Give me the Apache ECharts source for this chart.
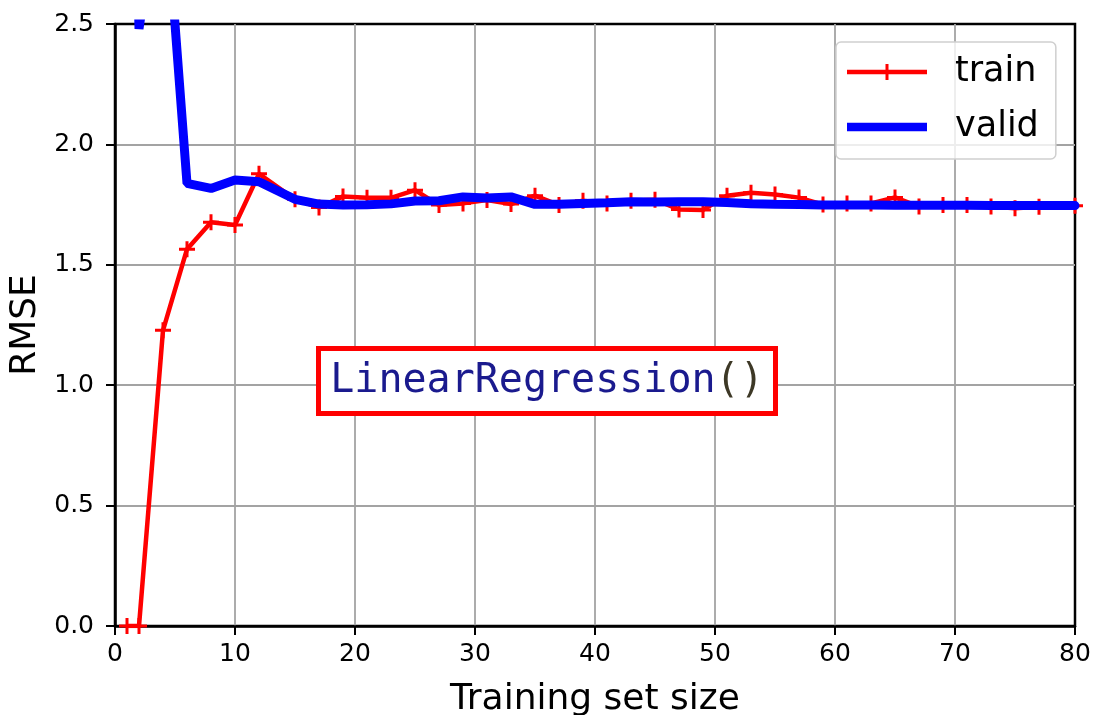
<!DOCTYPE html>
<html>
<head>
<meta charset="utf-8">
<script src="https://cdn.jsdelivr.net/npm/echarts@6/dist/echarts.min.js"></script>
<style>
  html, body { margin: 0; padding: 0; background: #fff; }
  #chart { width: 1094px; height: 715px; }
</style>
</head>
<body>
<div id="chart"></div>
<script>
// Learning curves of a plain linear regression model
const trainSizes = [1, 2, 4, 6, 8, 10, 12, 15, 17, 19, 21, 23, 25, 27, 29, 31, 33, 35, 37, 39,
  41, 43, 45, 47, 49, 51, 53, 55, 57, 59, 61, 63, 65, 67, 69, 71, 73, 75, 77, 80];

const trainRMSE = [0.0, 0.0, 1.228, 1.565, 1.677, 1.665, 1.878, 1.772, 1.738, 1.784,
  1.778, 1.778, 1.810, 1.748, 1.755, 1.769, 1.752, 1.787, 1.748, 1.766,
  1.755, 1.766, 1.770, 1.730, 1.728, 1.787, 1.799, 1.792, 1.779, 1.750,
  1.755, 1.755, 1.780, 1.742, 1.748, 1.748, 1.742, 1.735, 1.741, 1.745];

const validRMSE = [4.6, 2.48, 3.16, 1.838, 1.817, 1.852, 1.845, 1.772, 1.752, 1.748,
  1.749, 1.753, 1.765, 1.766, 1.782, 1.777, 1.782, 1.751, 1.751, 1.755,
  1.758, 1.762, 1.761, 1.762, 1.762, 1.759, 1.754, 1.751, 1.750, 1.748,
  1.748, 1.748, 1.747, 1.747, 1.747, 1.747, 1.746, 1.746, 1.746, 1.746];

const xTicks = [0, 10, 20, 30, 40, 50, 60, 70, 80];
const yTicks = [0.0, 0.5, 1.0, 1.5, 2.0, 2.5];
const seriesNames = ['train', 'valid'];
const modelLabel = 'LinearRegression';

const FONT = 'DejaVu Sans';
const plusPath = 'path://M-1.5,-8 H1.5 V-1.5 H8 V1.5 H1.5 V8 H-1.5 V1.5 H-8 V-1.5 H-1.5 Z';
const trainIcon = 'path://M0,5.8 H80 V10.2 H0 Z M38.5,0 H41.5 V16 H38.5 Z';
const validIcon = 'path://M0,0 H80 V8.5 H0 Z';

const pairs = (xs, ys) => xs.map((x, i) => [x, ys[i]]);

const chart = echarts.init(document.getElementById('chart'), null, { renderer: 'canvas' });

const axisCommon = {
  type: 'value',
  axisLine: { show: true, lineStyle: { color: '#000', width: 2.5 } },
  axisTick: { show: true, inside: false, length: 9, lineStyle: { color: '#000', width: 2 } },
  splitLine: { show: true, showMinLine: false, showMaxLine: false,
    lineStyle: { color: '#a3a3a3', width: 1.8 } },
  nameLocation: 'middle',
  nameTextStyle: { fontFamily: FONT, fontSize: 36, color: '#000' }
};

chart.setOption({
  animation: false,
  backgroundColor: '#fff',
  grid: {
    left: 115, right: 19, top: 24, bottom: 89,
    outerBoundsMode: 'none', containLabel: false,
    show: true, borderColor: '#000', borderWidth: 2.5, backgroundColor: 'transparent'
  },
  xAxis: Object.assign({}, axisCommon, {
    min: xTicks[0], max: xTicks[xTicks.length - 1], interval: xTicks[1] - xTicks[0],
    name: 'Training set size', nameGap: 56,
    axisLabel: { fontFamily: FONT, fontSize: 25, color: '#000', margin: 16 }
  }),
  yAxis: Object.assign({}, axisCommon, {
    min: yTicks[0], max: yTicks[yTicks.length - 1], interval: yTicks[1] - yTicks[0],
    name: 'RMSE', nameGap: 64, nameRotate: 90,
    axisLabel: { fontFamily: FONT, fontSize: 25, color: '#000', margin: 21,
      formatter: v => v.toFixed(1) }
  }),
  legend: {
    selectedMode: false,
    orient: 'vertical',
    left: 836, top: 42,
    padding: [12, 17, 14, 11],
    itemGap: 19,
    itemWidth: 80, itemHeight: 16,
    backgroundColor: 'rgba(255,255,255,0.8)',
    borderColor: '#cfcfcf', borderWidth: 1.5, borderRadius: 5,
    itemStyle: { borderWidth: 0 },
    textStyle: { fontFamily: FONT, fontSize: 35, color: '#000', lineHeight: 36,
      padding: [0, 0, 0, 23] },
    data: [
      { name: seriesNames[0], icon: trainIcon },
      { name: seriesNames[1], icon: validIcon }
    ]
  },
  graphic: [
    {
      type: 'rect', z: 10,
      shape: { x: 318.5, y: 348.5, width: 457, height: 65 },
      style: { fill: '#fff', stroke: '#ff0000', lineWidth: 5 }
    },
    {
      type: 'text', z: 11,
      x: 547, y: 382,
      style: {
        text: '{n|' + modelLabel + '}{p|()}',
        align: 'center', verticalAlign: 'middle',
        rich: {
          n: { fontFamily: 'DejaVu Sans Mono', fontSize: 40, fill: '#1a1a8e' },
          p: { fontFamily: 'DejaVu Sans Mono', fontSize: 40, fill: '#3d3826' }
        }
      }
    }
  ],
  series: [
    {
      name: seriesNames[0],
      type: 'line',
      data: pairs(trainSizes, trainRMSE),
      clip: true,
      z: 3,
      symbol: plusPath,
      symbolSize: 16,
      showSymbol: true,
      itemStyle: { color: '#ff0000', borderWidth: 0 },
      lineStyle: { color: '#ff0000', width: 4.5 }
    },
    {
      name: seriesNames[1],
      type: 'line',
      data: pairs(trainSizes, validRMSE),
      clip: true,
      z: 4,
      symbol: 'none',
      itemStyle: { color: '#0000ff' },
      lineStyle: { color: '#0000ff', width: 9, cap: 'round' }
    }
  ]
});
</script>
</body>
</html>
